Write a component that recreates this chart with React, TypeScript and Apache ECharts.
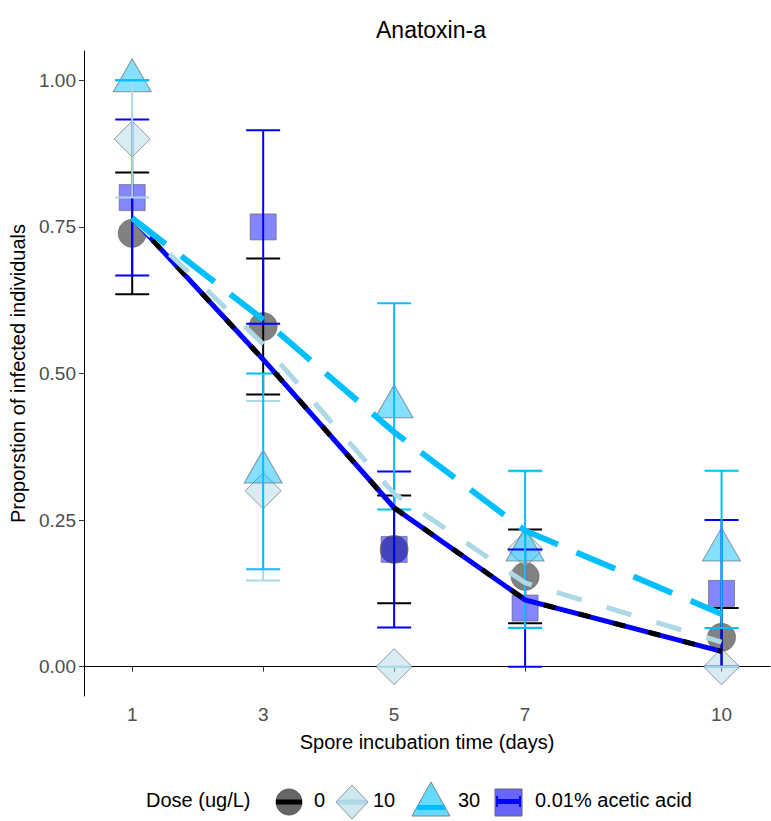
import React, { useEffect, useRef } from "react";
import * as echarts from "echarts";

// ---- data ----
const days = [1, 3, 5, 7, 10];
const tickDays = [1, 3, 5, 7, 10];
const yTicks = [0, 0.25, 0.5, 0.75, 1];

// observed proportions and their error (±)
const mean0 = [0.739, 0.58, 0.2, 0.154, 0.05];
const err0 = [0.104, 0.116, 0.092, 0.08, 0.05];
const mean10 = [0.9, 0.3, 0, 0.2, 0];
const err10 = [0.1, 0.153, 0, 0.133, 0];
const mean30 = [1.0, 0.333, 0.444, 0.2, 0.2];
const err30 = [0, 0.167, 0.176, 0.134, 0.134];
const meanAcetic = [0.8, 0.75, 0.2, 0.1, 0.125];
const errAcetic = [0.133, 0.165, 0.133, 0.1, 0.125];

// fitted curves
const fit0 = [0.765, 0.524, 0.271, 0.114, 0.026];
const fit10 = [0.765, 0.55, 0.295, 0.143, 0.042];
const fit30 = [0.765, 0.592, 0.4, 0.232, 0.09];
const fitAcetic = [0.765, 0.524, 0.271, 0.114, 0.026];

const legendLabels = ["0", "10", "30", "0.01% acetic acid"];

const FONT = "'Liberation Sans', Arial, sans-serif";

function errorSeries(name: string, means: number[], errs: number[], color: string, z: number) {
  return {
    name,
    type: "custom",
    z,
    encode: { x: 0, y: [1, 2] },
    data: days.map((d, i) => [d, Math.max(means[i] - errs[i], 0), Math.min(means[i] + errs[i], 1)]),
    renderItem: (params: any, api: any) => {
      const x = api.value(0);
      const lo = api.coord([x, api.value(1)]);
      const hi = api.coord([x, api.value(2)]);
      const hw = 17;
      const style = { stroke: color, lineWidth: 2 };
      return {
        type: "group",
        children: [
          { type: "line", shape: { x1: lo[0], y1: lo[1], x2: hi[0], y2: hi[1] }, style },
          { type: "line", shape: { x1: lo[0] - hw, y1: lo[1], x2: lo[0] + hw, y2: lo[1] }, style },
          { type: "line", shape: { x1: hi[0] - hw, y1: hi[1], x2: hi[0] + hw, y2: hi[1] }, style },
        ],
      };
    },
  };
}

function pointSeries(name: string, means: number[], symbol: string, size: any, fill: string, offset: number[] = [0, 0]) {
  return {
    name,
    type: "scatter",
    z: 2,
    symbol,
    symbolSize: size,
    symbolOffset: offset,
    data: days.map((d, i) => [d, means[i]]),
    itemStyle: { color: fill, borderColor: "rgba(90,90,90,0.75)", borderWidth: 1 },
  };
}

function fitSeries(name: string, fit: number[], color: string, width: number, dash: any, z: number, dashOffset = 0) {
  return {
    name,
    type: "line",
    z,
    showSymbol: false,
    symbol: "none",
    data: days.map((d, i) => [d, fit[i]]),
    lineStyle: { color, width, type: dash, dashOffset, cap: "butt", join: "miter" },
  };
}

export default function App() {
  const ref = useRef<HTMLDivElement>(null);
  useEffect(() => {
    if (!ref.current) return;
    const chart = echarts.init(ref.current, undefined, { renderer: "svg" });
    const ly = 802;
    const option: any = {
      animation: false,
      textStyle: { fontFamily: FONT },
      title: {
        text: "Anatoxin-a",
        left: 426,
        top: 13,
        textAlign: "center",
        textStyle: { fontSize: 23, fontWeight: "normal", color: "#000", fontFamily: FONT },
      },
      grid: { left: 83, right: 1, top: 51, bottom: 125, containLabel: false },
      xAxis: {
        type: "value",
        min: 0.264,
        max: 10.74,
        name: "Spore incubation time (days)",
        nameLocation: "middle",
        nameGap: 36,
        nameTextStyle: { fontSize: 20, color: "#000", fontFamily: FONT },
        axisLine: { show: true, lineStyle: { color: "#000", width: 1 } },
        axisTick: { show: true, customValues: tickDays, length: 5, lineStyle: { color: "#333" } },
        axisLabel: { customValues: tickDays, fontSize: 19, color: "#4D4D4D", margin: 9, fontFamily: FONT },
        splitLine: { show: false },
      },
      yAxis: {
        type: "value",
        min: -0.05,
        max: 1.05,
        name: "Proporstion of infected individuals",
        nameLocation: "middle",
        nameGap: 56,
        nameRotate: 90,
        nameTextStyle: { fontSize: 20, color: "#000", fontFamily: FONT },
        axisLine: { show: true, lineStyle: { color: "#000", width: 1 } },
        axisTick: { show: true, customValues: yTicks, length: 5, lineStyle: { color: "#333" } },
        axisLabel: {
          customValues: yTicks,
          fontSize: 19,
          color: "#4D4D4D",
          margin: 8,
          fontFamily: FONT,
          formatter: (v: number) => v.toFixed(2),
        },
        splitLine: { show: false },
      },
      series: [
        pointSeries("0", mean0, "circle", 28, "rgba(0,0,0,0.62)"),
        pointSeries("10", mean10, "diamond", [36, 36], "rgba(173,216,230,0.6)"),
        pointSeries("30", mean30, "triangle", [38, 33], "rgba(0,191,255,0.6)", [0, -5]),
        pointSeries("0.01% acetic acid", meanAcetic, "rect", [26, 26], "rgba(0,0,255,0.6)"),
        errorSeries("e0", mean0, err0, "#000000", 3),
        errorSeries("eA", meanAcetic, errAcetic, "#0000FF", 3),
        errorSeries("e10", mean10, err10, "#ADD8E6", 3),
        errorSeries("e30", mean30, err30, "#00BFFF", 3),
        fitSeries("fA", fitAcetic, "#0000FF", 5, "solid", 4),
        fitSeries("f0", fit0, "#000000", 5, [12, 24], 5, 6),
        fitSeries("f10", fit10, "#ADD8E6", 5, [26, 26], 6),
        fitSeries("f30", fit30, "#00BFFF", 6, [42, 20], 7),
      ],
      graphic: [
        { type: "text", left: 146, top: ly - 12, style: { text: "Dose (ug/L)", fontSize: 20, fill: "#000", fontFamily: FONT } },
        // key 0
        { type: "circle", shape: { cx: 289, cy: ly, r: 13 }, style: { fill: "#666666", stroke: "#555" } },
        { type: "rect", shape: { x: 276, y: ly - 2.5, width: 26, height: 5 }, style: { fill: "#000" } },
        { type: "text", left: 314, top: ly - 12, style: { text: legendLabels[0], fontSize: 20, fill: "#000", fontFamily: FONT } },
        // key 10
        {
          type: "polygon",
          shape: { points: [[336, ly], [352, ly - 17], [368, ly], [352, ly + 17]] },
          style: { fill: "#CEE8F0", stroke: "#8a9a9f" },
        },
        { type: "rect", shape: { x: 338, y: ly - 2.5, width: 28, height: 5 }, style: { fill: "#ADD8E6" } },
        { type: "text", left: 373, top: ly - 12, style: { text: legendLabels[1], fontSize: 20, fill: "#000", fontFamily: FONT } },
        // key 30
        {
          type: "polygon",
          shape: { points: [[431, ly - 20], [450, ly + 14], [412, ly + 14]] },
          style: { fill: "#66D9FF", stroke: "#6a8a95" },
        },
        { type: "rect", shape: { x: 417, y: ly + 3, width: 28, height: 5 }, style: { fill: "#00BFFF" } },
        { type: "text", left: 458, top: ly - 12, style: { text: legendLabels[2], fontSize: 20, fill: "#000", fontFamily: FONT } },
        // key acetic
        { type: "rect", shape: { x: 495, y: ly - 13, width: 27, height: 27 }, style: { fill: "#6666FF", stroke: "#666" } },
        { type: "rect", shape: { x: 496, y: ly - 3, width: 25, height: 5 }, style: { fill: "#0000FF" } },
        { type: "rect", shape: { x: 496, y: ly - 6, width: 2, height: 11 }, style: { fill: "#0000FF" } },
        { type: "rect", shape: { x: 519, y: ly - 6, width: 2, height: 11 }, style: { fill: "#0000FF" } },
        { type: "text", left: 535, top: ly - 12, style: { text: legendLabels[3], fontSize: 20, fill: "#000", fontFamily: FONT } },
      ],
    };
    chart.setOption(option);
    return () => chart.dispose();
  }, []);
  return (
    <div
      ref={ref}
      style={{ position: "absolute", left: 0, top: 0, width: 771, height: 821, background: "#fff" }}
    />
  );
}
